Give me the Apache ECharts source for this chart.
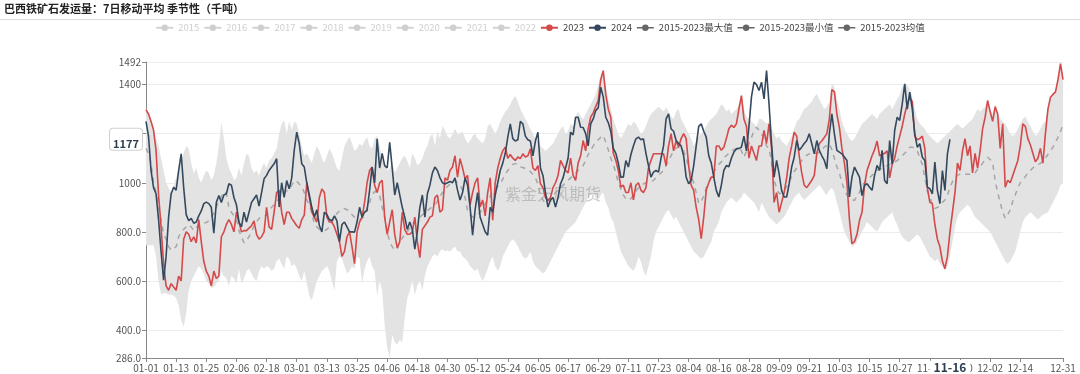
<!DOCTYPE html>
<html><head><meta charset="utf-8">
<script src="https://cdn.jsdelivr.net/npm/echarts@6/dist/echarts.min.js"></script>
<style>html,body{margin:0;padding:0;background:#fff}#c{width:1080px;height:374px}</style>
</head><body><div id="c"></div>
<script>
const monthDays = [31,29,31,30,31,30,31,31,30,31,30,31];
const categories = [];
monthDays.forEach((n, m) => { for (let d = 1; d <= n; d++) categories.push(String(m+1).padStart(2,'0') + '-' + String(d).padStart(2,'0')); });

const titleText = '巴西铁矿石发运量：7日移动平均 季节性（千吨）';
const hiddenYears = ['2015','2016','2017','2018','2019','2020','2021','2022'];
const pointerDate = '11-16';

const s2023 = [
1297,1280,1250,1215,1131,950,820,670,580,562,
589,575,562,620,600,770,800,790,760,780,
755,850,760,680,640,620,580,640,610,620,
780,800,830,850,830,800,880,840,800,805,
805,815,825,845,790,770,780,800,900,820,
810,880,960,970,880,830,880,880,855,840,
825,815,850,868,1000,940,880,860,840,940,
975,960,860,840,840,820,790,760,700,720,
780,800,740,670,800,840,860,920,1000,1050,
1064,990,960,1000,1010,860,790,840,890,790,
735,760,880,810,790,790,800,860,760,695,
810,825,840,860,865,940,950,880,890,1020,
1010,1050,1064,1110,1023,1098,1060,1016,1030,910,
960,1000,1020,901,930,865,960,1020,847,1000,
1060,1100,1130,1145,1100,1115,1100,1091,1105,1098,
1118,1105,1110,1138,1060,1050,1070,996,980,940,
928,940,980,1000,1030,1091,1070,1050,1040,1100,
1030,1010,1080,1110,1172,1130,1220,1267,1285,1310,
1335,1420,1457,1360,1300,1267,1120,1091,1050,982,
990,960,960,1000,930,990,1000,970,960,980,
1060,1091,1118,1118,1118,1118,1118,1070,1150,1200,
1130,1170,1145,1180,1200,1180,1070,990,969,900,
850,772,860,969,1000,1023,1023,1150,1150,1132,
1145,1180,1220,1235,1225,1240,1300,1355,1260,1230,
1100,1150,1120,1091,1150,1150,1213,1160,1240,1140,
920,960,880,920,960,1020,1100,1150,1206,1190,
1110,1040,990,980,995,1010,1030,1120,1160,1170,
1185,1200,1260,1380,1370,1280,1225,1140,1080,1000,
850,752,760,790,847,880,990,1050,1080,1110,
1135,1170,1110,1115,1120,1130,1020,1075,1100,1150,
1190,1230,1280,1320,1348,1330,1190,1175,1180,1190,
1140,980,920,915,830,770,740,680,650,700,
800,880,960,1080,1050,1130,1180,1110,1150,1040,
1120,1060,1130,1220,1267,1335,1290,1250,1310,1280,
1140,1240,982,1010,1000,1030,1060,1090,1150,1240,
1230,1180,1155,1120,1085,1100,1140,1080,1200,1300,
1348,1360,1370,1420,1485,1420
];

const s2024 = [
1250,1190,1050,980,955,850,720,603,700,860,
955,982,970,1050,1118,980,870,845,855,835,
840,865,885,915,921,915,900,795,920,948,
920,950,955,996,990,940,910,840,820,880,
840,880,920,935,950,905,960,1016,1030,1050,
1064,1077,1098,901,1000,940,1009,975,1020,1132,
1206,1160,1077,1064,1000,950,900,860,890,826,
800,880,870,850,845,865,845,760,830,840,
820,800,800,799,840,900,860,880,887,970,
1064,1000,1179,1060,1120,1070,1060,1165,1060,950,
1000,950,900,860,810,840,810,730,800,900,
950,860,955,990,1040,1064,1050,1020,1000,995,
1000,1005,1000,1020,970,930,960,1020,990,901,
786,890,960,860,830,800,786,900,880,950,
1000,1050,1080,1120,1186,1240,1180,1170,1175,1250,
1240,1190,1175,1170,1110,1170,1206,1060,1030,960,
901,930,940,901,940,996,1020,1060,1100,1206,
1195,1267,1267,1226,1225,1200,1150,1240,1260,1294,
1305,1389,1350,1267,1245,1210,1140,1120,1080,1023,
1023,1090,1064,1115,1150,1179,1186,1175,1179,1120,
1070,1023,1043,1050,1043,1100,1150,1260,1281,1220,
1210,1172,1160,1150,1110,1023,996,1010,1070,1150,
1230,1240,1210,1186,1110,1080,1023,969,942,990,
1050,1070,1065,1100,1125,1138,1140,1145,1190,1130,
1230,1350,1410,1400,1376,1410,1342,1457,1320,1159,
1023,1091,1037,969,942,942,996,1064,1104,1172,
1132,1145,1160,1172,1200,1159,1118,1172,1132,1110,
1091,1057,1200,1281,1200,1132,1125,1118,1105,1091,
942,1023,1064,1043,1023,948,990,996,982,969,
1030,1071,1050,1132,1009,996,1172,1077,1213,1267,
1254,1320,1403,1300,1369,1301,1200,1145,1159,1104,
1091,982,976,955,1084,969,915,1050,969,1118,
1177
];

const maxV = [
1300,1285,1260,1225,1180,1150,1100,1050,1000,980,
960,990,1020,1060,1090,1120,1150,1140,1080,1040,
1060,1020,1000,1030,1050,1040,1010,1030,1080,1150,
1247,1180,1100,1060,1040,1010,1020,1060,1030,1080,
1118,1110,1060,1040,1050,1030,1060,1080,1060,1090,
1100,1120,1140,1200,1240,1255,1200,1250,1215,1250,
1240,1200,1150,1110,1120,1100,1080,1120,1150,1130,
1100,1080,1110,1140,1120,1090,1060,1050,1100,1150,
1170,1186,1160,1130,1140,1160,1150,1170,1186,1150,
1140,1180,1190,1150,1100,1080,1050,1060,1080,1040,
1060,1080,1100,1110,1090,1060,1120,1100,1070,1080,
1100,1130,1150,1186,1200,1150,1210,1180,1230,1213,
1190,1180,1200,1220,1200,1200,1210,1180,1160,1170,
1190,1200,1180,1170,1160,1180,1230,1240,1220,1200,
1220,1250,1270,1290,1300,1320,1340,1355,1330,1300,
1280,1260,1240,1220,1200,1180,1170,1150,1140,1130,
1140,1150,1160,1180,1200,1220,1230,1200,1210,1240,
1230,1270,1290,1270,1260,1280,1300,1320,1340,1360,
1400,1440,1460,1400,1340,1300,1260,1230,1200,1180,
1200,1220,1240,1230,1250,1240,1220,1200,1210,1230,
1260,1280,1290,1300,1310,1300,1290,1308,1290,1270,
1260,1290,1300,1260,1240,1220,1200,1180,1150,1170,
1190,1200,1210,1230,1250,1260,1270,1280,1300,1320,
1310,1290,1300,1280,1290,1300,1320,1360,1300,1270,
1260,1250,1240,1230,1260,1260,1250,1240,1250,1220,
1200,1180,1190,1170,1160,1150,1170,1190,1220,1250,
1260,1280,1300,1308,1320,1330,1350,1362,1340,1320,
1300,1310,1330,1405,1390,1340,1300,1250,1220,1200,
1180,1170,1180,1200,1220,1240,1250,1260,1270,1280,
1270,1260,1280,1290,1300,1310,1320,1300,1320,1340,
1360,1390,1403,1400,1380,1350,1300,1260,1240,1230,
1220,1200,1190,1180,1170,1160,1170,1180,1190,1200,
1210,1220,1230,1240,1230,1220,1230,1240,1250,1260,
1280,1300,1290,1300,1310,1340,1300,1280,1320,1290,
1260,1250,1240,1220,1200,1190,1200,1220,1240,1260,
1270,1250,1230,1210,1190,1200,1220,1240,1250,1310,
1350,1365,1375,1425,1492,1430
];

const minV = [
745,745,745,745,700,600,545,550,550,545,
545,540,530,500,440,413,470,560,600,620,
640,660,650,630,600,590,570,575,590,600,
640,620,610,580,620,610,590,650,590,610,
640,650,630,610,600,640,660,650,660,655,
640,650,680,690,670,650,700,690,660,670,
650,620,600,640,590,540,521,560,600,620,
640,650,660,640,600,560,680,700,690,660,
630,640,660,650,700,690,590,650,680,700,
660,640,540,600,560,420,330,286,380,350,
340,360,350,450,530,560,600,543,580,600,
560,620,660,680,700,710,700,720,730,720,
725,720,730,740,720,720,700,690,680,660,
650,640,650,620,600,620,650,680,700,660,
640,660,700,720,740,760,770,760,740,720,
700,690,700,720,680,660,650,640,630,640,
660,680,700,720,740,760,780,800,810,820,
830,840,860,880,900,920,940,950,960,940,
930,950,960,920,900,860,840,800,760,720,
700,680,660,650,640,660,700,680,640,620,
660,700,760,800,820,840,860,880,890,870,
850,860,840,820,800,780,760,740,720,711,
700,690,700,720,740,760,800,820,840,880,
900,920,930,940,930,920,930,940,960,950,
940,930,920,900,880,920,900,880,860,850,
840,830,840,850,860,880,900,920,940,950,
960,940,930,940,950,960,970,980,990,980,
960,950,970,980,960,920,880,840,800,780,
760,740,745,760,780,800,820,840,830,820,
810,800,820,840,850,860,870,880,850,830,
800,780,770,760,760,770,780,790,780,760,
740,720,700,690,680,690,670,660,640,660,
700,760,820,860,880,890,900,910,900,880,
860,850,840,830,820,810,800,780,760,740,
720,700,680,670,680,700,720,760,800,840,
860,870,880,870,860,850,860,870,874,880,
900,920,940,960,990,1000
];

const meanV = [
1140,1120,1080,1000,960,900,850,790,770,740,
725,730,740,780,800,810,820,830,820,805,
815,830,835,835,838,845,860,875,900,925,
942,965,955,900,880,865,850,805,780,755,
765,780,800,825,840,855,860,860,870,885,
900,910,925,935,950,960,968,970,990,1009,
1005,995,985,960,930,910,880,830,820,810,
805,805,810,820,840,860,875,885,894,895,
890,885,870,860,855,850,855,865,900,920,
950,965,960,950,900,860,800,760,740,725,
730,760,775,790,800,815,830,845,855,860,
870,875,885,895,900,910,925,945,960,975,
985,995,1005,1010,1000,990,970,940,887,870,
860,865,870,880,895,915,930,945,960,975,
985,995,1015,1035,1050,1064,1075,1078,1075,1064,
1062,1058,1055,1045,1035,1020,995,945,930,915,
925,935,945,960,970,980,990,1000,1010,1020,
1030,1040,1050,1060,1070,1090,1115,1132,1150,1165,
1175,1185,1193,1165,1135,1100,1075,1040,1000,975,
950,935,928,935,950,965,980,990,995,1000,
1000,1005,1010,1020,1030,1040,1050,1070,1090,1110,
1130,1142,1145,1140,1132,1100,1064,1030,1000,960,
915,925,945,980,1000,1030,1045,1060,1075,1085,
1104,1110,1120,1130,1135,1140,1145,1130,1104,1130,
1160,1185,1210,1226,1215,1200,1180,1150,1140,1080,
1009,980,955,960,970,985,1005,1025,1045,1060,
1075,1090,1104,1112,1118,1120,1122,1118,1125,1135,
1145,1152,1159,1135,1100,1064,1040,1000,970,950,
940,932,928,945,960,990,1000,1010,1020,1030,
1040,1050,1055,1060,1064,1070,1075,1080,1085,1090,
1100,1110,1120,1130,1145,1145,1140,1130,1100,1075,
1020,965,942,910,895,900,905,920,930,950,
980,1005,1020,1030,1035,1037,1035,1035,1035,1035,
1040,1055,1064,1080,1095,1104,1095,1080,1009,960,
920,880,855,870,890,925,950,980,1000,1010,
1025,1040,1050,1060,1070,1075,1078,1090,1100,1115,
1130,1145,1165,1185,1210,1235
];

const C2023 = '#d4494a';
const C2024 = '#34495e';
const CBAND = '#666666';
const font = '"Noto Sans CJK SC", "Noto Sans", sans-serif';

const bandDiff = maxV.map((v, i) => v - minV[i]);
const pointerIdx = categories.indexOf(pointerDate);
const labelShown = i => (i % 12 === 0 && i <= 348) || i === categories.length - 1;

const series = [];
hiddenYears.forEach(y => series.push({ name: y, type: 'line', data: [], symbol: 'circle', showSymbol: false }));
series.push({ name: '2023', type: 'line', data: s2023, symbol: 'circle', showSymbol: false, z: 4,
  lineStyle: { color: C2023, width: 1.6 }, itemStyle: { color: C2023 } });
series.push({ name: '2024', type: 'line', data: s2024, symbol: 'circle', showSymbol: false, z: 5,
  lineStyle: { color: C2024, width: 1.6 }, itemStyle: { color: C2024 } });
series.push({ name: '2015-2023最小值', type: 'line', data: minV, stack: 'band', symbol: 'circle', showSymbol: false, z: 1,
  lineStyle: { opacity: 0 }, itemStyle: { color: CBAND } });
series.push({ name: '2015-2023最大值', type: 'line', data: bandDiff, stack: 'band', symbol: 'circle', showSymbol: false, z: 1,
  lineStyle: { opacity: 0 }, itemStyle: { color: CBAND }, areaStyle: { color: '#e3e3e3', opacity: 1 } });
series.push({ name: '2015-2023均值', type: 'line', data: meanV, symbol: 'circle', showSymbol: false, z: 3,
  lineStyle: { color: '#a6a6a6', width: 1.5, type: [5, 5] }, itemStyle: { color: CBAND } });

const legendNames = hiddenYears.concat(['2023','2024','2015-2023最大值','2015-2023最小值','2015-2023均值']);
const legendData = legendNames.map(n => {
  if (n.indexOf('2015-2023') === 0) return { name: n, itemStyle: { color: CBAND }, lineStyle: { color: CBAND, opacity: 1, type: 'solid', width: 1.5 } };
  return { name: n };
});
const selected = {}; hiddenYears.forEach(y => selected[y] = false);

const chart = echarts.init(document.getElementById('c'), null, { renderer: 'canvas' });
chart.setOption({
  animation: false,
  textStyle: { fontFamily: font },
  title: { text: titleText, left: 4, top: 3, padding: 0, textStyle: { fontSize: 11, fontWeight: 'bold', color: '#222', fontFamily: font } },
  graphic: [
    { type: 'line', shape: { x1: 0, y1: 19.5, x2: 1080, y2: 19.5 }, style: { stroke: '#dcdcdc', lineWidth: 1 }, silent: true },
    { type: 'text', x: 553, y: 194, z: 2, silent: true,
      style: { text: '紫金天风期货', fill: 'rgba(140,140,140,0.45)', font: '16px "Noto Sans CJK SC"', textAlign: 'center', textVerticalAlign: 'middle' } }
  ],
  legend: { top: 18, left: 'center', data: legendData, selected: selected, itemWidth: 17, itemHeight: 8, itemGap: 4,
    textStyle: { fontSize: 9.5, color: '#444', fontFamily: font }, inactiveColor: '#cfcfcf' },
  grid: { left: 146, right: 17, top: 62, bottom: 16, containLabel: false },
  xAxis: {
    type: 'category', data: categories, boundaryGap: false,
    axisLine: { lineStyle: { color: '#888' } },
    axisTick: { interval: labelShown, length: 4, lineStyle: { color: '#888' } },
    axisLabel: { interval: labelShown, fontSize: 10, color: '#555', margin: 5, fontFamily: font },
    splitLine: { show: false },
    axisPointer: { show: true, type: 'line', value: pointerIdx, status: 'show', triggerTooltip: false,
      lineStyle: { opacity: 0 },
      label: { show: true, fontWeight: 'bold', fontSize: 12, color: '#2c3e50', backgroundColor: '#fff', padding: [1, 4, 1, 4], margin: 3, shadowBlur: 0, fontFamily: font } }
  },
  yAxis: {
    type: 'value', min: Math.min(...minV), max: Math.max(...maxV),
    axisLine: { show: true, lineStyle: { color: '#888' } },
    axisTick: { show: true, length: 4, lineStyle: { color: '#888' } },
    axisLabel: { fontSize: 10, color: '#555', margin: 5, fontFamily: font,
      formatter: v => v >= 1000 ? String(Math.round(v)) : v.toFixed(1) },
    splitLine: { lineStyle: { color: '#ececec' } },
    axisPointer: { show: true, type: 'line', value: s2024[pointerIdx], status: 'show', triggerTooltip: false,
      lineStyle: { opacity: 0 },
      label: { show: true, fontWeight: 'bold', fontSize: 11, color: '#2c3e50', backgroundColor: '#fff', borderColor: '#d0d0d0', borderWidth: 1,
        padding: [9, 3, 1, 3], margin: 4, shadowBlur: 0, fontFamily: font, formatter: p => String(Math.round(p.value)) } }
  },
  series: series
});
</script>
</body></html>
